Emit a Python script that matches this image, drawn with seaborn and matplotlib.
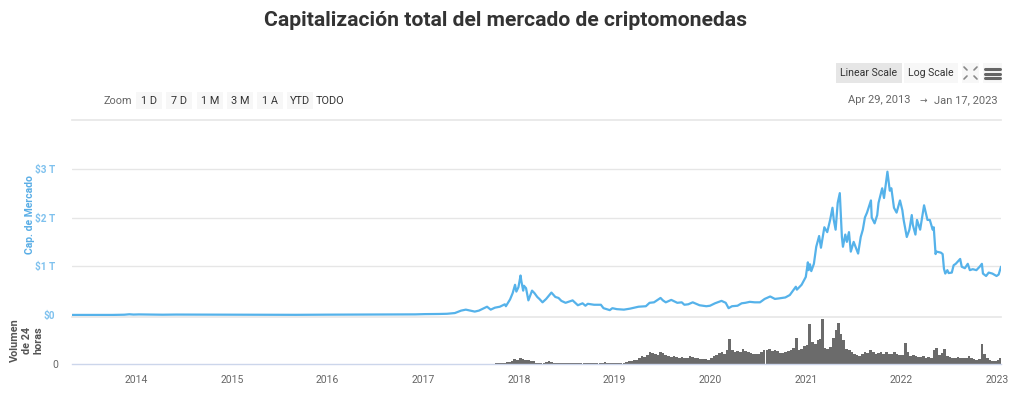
import numpy as np
import pandas as pd
import matplotlib.pyplot as plt
import matplotlib.dates as mdates
from matplotlib.patches import Rectangle
from matplotlib.lines import Line2D
import seaborn as sns

# market cap (trillions USD)
cap_dates = [
    "2013-04-29", "2013-06-01", "2013-08-01", "2013-10-01", "2013-11-15", "2013-12-04", "2013-12-20",
    "2014-01-10", "2014-02-15", "2014-04-10", "2014-06-01", "2014-08-01", "2014-10-01", "2014-12-01",
    "2015-01-14", "2015-03-01", "2015-06-01", "2015-09-01", "2015-11-05",
    "2016-01-01", "2016-03-01", "2016-06-18", "2016-09-01", "2016-12-01",
    "2017-01-05", "2017-03-01", "2017-04-01", "2017-05-01", "2017-05-25", "2017-06-12", "2017-07-16",
    "2017-08-01", "2017-09-01", "2017-09-15", "2017-10-01", "2017-10-20", "2017-11-08", "2017-11-12",
    "2017-11-28", "2017-12-08", "2017-12-17", "2017-12-22", "2017-12-30",
    "2018-01-07", "2018-01-10", "2018-01-17", "2018-01-20", "2018-01-28", "2018-02-06", "2018-02-20",
    "2018-03-01", "2018-03-12", "2018-03-20", "2018-04-01", "2018-04-15", "2018-05-05", "2018-05-20",
    "2018-06-01", "2018-06-12", "2018-06-28", "2018-07-25", "2018-08-14", "2018-09-01", "2018-09-12",
    "2018-09-21", "2018-10-15", "2018-11-10", "2018-11-20", "2018-12-14", "2018-12-24",
    "2019-01-10", "2019-02-06", "2019-03-01", "2019-04-03", "2019-05-01", "2019-05-15", "2019-06-01",
    "2019-06-26", "2019-07-05", "2019-07-16", "2019-08-06", "2019-08-29", "2019-09-15", "2019-09-25",
    "2019-10-10", "2019-10-27", "2019-11-22", "2019-12-18",
    "2020-01-01", "2020-01-20", "2020-02-14", "2020-03-01", "2020-03-12", "2020-03-25", "2020-04-15",
    "2020-05-01", "2020-05-15", "2020-06-01", "2020-06-20", "2020-07-10", "2020-07-28", "2020-08-18",
    "2020-09-05", "2020-09-20", "2020-10-15", "2020-11-01", "2020-11-24", "2020-11-28", "2020-12-16",
    "2021-01-01", "2021-01-09", "2021-01-12", "2021-01-17", "2021-01-22", "2021-02-01", "2021-02-10",
    "2021-02-21", "2021-02-28", "2021-03-13", "2021-03-24", "2021-04-04", "2021-04-13", "2021-04-18",
    "2021-04-25", "2021-05-03", "2021-05-11", "2021-05-19", "2021-05-23", "2021-06-01", "2021-06-07",
    "2021-06-15", "2021-06-22", "2021-07-03", "2021-07-10", "2021-07-20", "2021-07-30", "2021-08-07",
    "2021-08-15", "2021-08-23", "2021-09-07", "2021-09-10", "2021-09-21", "2021-10-01", "2021-10-06",
    "2021-10-20", "2021-10-27", "2021-11-09", "2021-11-18", "2021-11-24", "2021-12-04", "2021-12-14",
    "2021-12-27",
    "2022-01-05", "2022-01-10", "2022-01-22", "2022-02-01", "2022-02-10", "2022-02-14", "2022-02-24",
    "2022-03-02", "2022-03-14", "2022-03-29", "2022-04-11", "2022-04-20", "2022-05-01", "2022-05-05",
    "2022-05-12", "2022-05-15", "2022-06-01", "2022-06-08", "2022-06-13", "2022-06-18", "2022-06-26",
    "2022-07-01", "2022-07-13", "2022-07-20", "2022-07-28", "2022-08-14", "2022-08-20", "2022-09-01",
    "2022-09-12", "2022-09-20", "2022-10-01", "2022-10-15", "2022-10-29", "2022-11-05", "2022-11-09",
    "2022-11-21", "2022-12-01", "2022-12-15", "2022-12-31", "2023-01-08", "2023-01-17",
]
cap_values = [
    0.0015, 0.0012, 0.0013, 0.0016, 0.006, 0.015, 0.009,
    0.012, 0.009, 0.006, 0.009, 0.008, 0.005, 0.005,
    0.003, 0.004, 0.004, 0.0035, 0.006,
    0.007, 0.008, 0.012, 0.011, 0.013,
    0.018, 0.021, 0.025, 0.04, 0.09, 0.11, 0.07,
    0.09, 0.17, 0.11, 0.15, 0.17, 0.22, 0.18,
    0.32, 0.45, 0.62, 0.48, 0.57,
    0.81, 0.70, 0.50, 0.60, 0.55, 0.30, 0.50,
    0.45, 0.37, 0.33, 0.26, 0.33, 0.46, 0.37,
    0.35, 0.29, 0.25, 0.30, 0.20, 0.24, 0.19,
    0.23, 0.21, 0.21, 0.14, 0.10, 0.14,
    0.12, 0.11, 0.13, 0.17, 0.18, 0.25, 0.26,
    0.35, 0.30, 0.26, 0.31, 0.25, 0.26, 0.21,
    0.22, 0.26, 0.20, 0.18,
    0.19, 0.24, 0.29, 0.25, 0.14, 0.18, 0.19,
    0.24, 0.25, 0.27, 0.26, 0.26, 0.33, 0.38,
    0.33, 0.34, 0.36, 0.41, 0.58, 0.52, 0.62,
    0.78, 1.08, 0.92, 1.04, 0.90, 1.05, 1.40,
    1.62, 1.38, 1.80, 1.70, 1.95, 2.20, 1.95,
    1.75, 2.30, 2.50, 1.60, 1.40, 1.65, 1.50,
    1.70, 1.30, 1.50, 1.40, 1.26, 1.60, 1.75,
    2.00, 2.10, 2.35, 2.00, 1.88, 2.05, 2.30,
    2.60, 2.40, 2.94, 2.55, 2.60, 2.20, 2.10,
    2.35,
    2.15, 1.95, 1.60, 1.75, 2.05, 1.85, 1.65,
    1.95, 1.75, 2.25, 1.95, 1.95, 1.75, 1.80,
    1.25, 1.30, 1.28, 1.25, 0.95, 0.85, 0.92,
    0.86, 0.87, 1.02, 1.05, 1.15, 0.99, 0.96,
    1.05, 0.92, 0.94, 0.92, 1.00, 1.05, 0.85,
    0.80, 0.87, 0.85, 0.80, 0.83, 0.99,
]

# 24h volume (billions USD), roughly every 10 days
vol_start = "2017-10-01"
vol_values = [
    8, 8, 10, 10, 14, 16, 24, 40, 34,                                   # 2017 Q4
    48, 42, 36, 34, 28, 24, 10, 10, 9, 10, 14, 22, 16, 12, 10, 9, 9, 8,  # 2018 H1
    9, 10, 9, 9, 8, 9, 8, 10, 8, 8, 8, 8, 9, 12, 14, 10, 9, 10,          # 2018 H2
    10, 10, 10, 12, 16, 22, 26, 30, 32, 50, 62, 56, 72, 94, 88, 80, 74, 96,
    90, 72, 66, 56, 62, 58, 50, 58, 52, 48, 66, 56, 50, 46, 42, 40, 42, 36,
    50, 62, 72, 88, 96, 84, 110, 200, 115, 96, 104, 98, 120, 106, 98, 90, 82, 80,
    82, 96, 112, 114, 120, 108, 110, 106, 92, 88, 96, 104, 112, 130, 210, 112, 122, 146,
    150, 320, 180, 160, 190, 200, 360, 130, 120, 140, 210, 270, 330, 240, 190, 120, 110, 96,
    80, 72, 66, 82, 96, 88, 110, 96, 82, 90, 96, 82, 96, 82, 80, 96, 82, 74,
    74, 170, 96, 66, 72, 62, 56, 58, 64, 50, 56, 48, 110, 130, 74, 88, 120, 66,
    56, 50, 48, 56, 48, 46, 48, 62, 46, 40, 34, 38, 160, 82, 50, 32, 26, 24,
    32, 50,
]

years = list(range(2014, 2024))
cap_ticks = [0, 1, 2, 3]
cap_tick_labels = ["$0", "$1 T", "$2 T", "$3 T"]

df = pd.DataFrame({"date": pd.to_datetime(cap_dates), "cap": cap_values})
vol_dates = []
d = pd.Timestamp(vol_start)
for v in vol_values:
    vol_dates.append(d)
    d = d + pd.Timedelta(days=10) if d.day < 21 else (d + pd.offsets.MonthBegin(1))
vol = pd.DataFrame({"date": vol_dates, "vol": vol_values})

W, H = 1024, 395
sns.set_style("white")
plt.rcParams["font.family"] = ["Roboto", "DejaVu Sans"]

fig = plt.figure(figsize=(W / 100, H / 100), dpi=100)


def fx(px):
    return px / W


def fy(py):
    return 1 - py / H


x0, x1 = 72, 1001
xmin, xmax = pd.Timestamp("2013-04-29"), pd.Timestamp("2023-01-17")

# price panel
ax = fig.add_axes([fx(x0), fy(317), fx(x1 - x0), fy(120) - fy(317)])
sns.lineplot(data=df, x="date", y="cap", ax=ax, color="#55b2ea", linewidth=1.6)
ax.set_xlim(xmin, xmax)
ax.set_ylim(-0.041, 4.0)
ax.set_yticks(cap_ticks)
ax.set_yticklabels(cap_tick_labels)
ax.tick_params(axis="y", length=0, pad=12, labelsize=7.2, labelcolor="#7ec1ee")
for t in ax.get_yticklabels():
    t.set_fontweight("bold")
ax.set_xticks([])
ax.set_xlabel("")
ax.set_ylabel("")
for s in ["left", "right"]:
    ax.spines[s].set_visible(False)
for s in ["top", "bottom"]:
    ax.spines[s].set_color("#e6e6e6")
    ax.spines[s].set_linewidth(1.2)
for g in [1, 2, 3]:
    ax.axhline(g, color="#e6e6e6", lw=1, zorder=0)

# volume panel
axv = fig.add_axes([fx(x0), fy(364), fx(x1 - x0), fy(318) - fy(364)])
axv.bar(vol["date"], vol["vol"], width=10, align="edge", color="#6b6b6b", linewidth=0)
axv.set_xlim(xmin, xmax)
axv.set_ylim(0, 368)
axv.set_yticks([0])
axv.set_yticklabels(["0"])
axv.tick_params(axis="y", length=0, pad=10, labelsize=7.5, labelcolor="#666666")
axv.set_xticks([pd.Timestamp(f"{y}-01-01") for y in years])
axv.xaxis.set_major_formatter(mdates.DateFormatter("%Y"))
axv.tick_params(axis="x", length=5, width=1, color="#ccd6eb", pad=3,
                labelsize=7.5, labelcolor="#666666")
for s in ["left", "right", "top"]:
    axv.spines[s].set_visible(False)
axv.spines["bottom"].set_color("#ccd6eb")
axv.spines["bottom"].set_linewidth(1)

# axis titles
fig.text(fx(30), fy(215), "Cap. de Mercado", rotation=90, ha="center", va="center",
         fontsize=7.5, fontweight="bold", color="#5aaee6")
fig.text(fx(27), fy(340), "Volumen\nde 24\nhoras", rotation=90, ha="center", va="center",
         fontsize=7.8, fontweight="bold", color="#555555", linespacing=1.2,
         multialignment="center")

# title
fig.text(fx(505), fy(20), "Capitalización total del mercado de criptomonedas",
         ha="center", va="center", fontsize=15.2, fontweight="bold", color="#333333")


def button(cx, cy, w, h, label, bg, fs=7.8, color="#333333"):
    fig.patches.append(Rectangle((fx(cx - w / 2), fy(cy + h / 2)), fx(w), fy(cy - h / 2) - fy(cy + h / 2),
                                 transform=fig.transFigure, facecolor=bg, edgecolor="none"))
    if label:
        fig.text(fx(cx), fy(cy), label, ha="center", va="center", fontsize=fs, color=color)


# range selector
fig.text(fx(118), fy(101), "Zoom", ha="center", va="center", fontsize=7.8, color="#666666")
for cx, lab in zip([149, 179, 210, 240, 270, 300, 330], ["1 D", "7 D", "1 M", "3 M", "1 A", "YTD", "TODO"]):
    button(cx, 101, 26, 17, lab, "#f7f7f7" if lab != "TODO" else "none")

fig.text(fx(879), fy(100), "Apr 29, 2013", ha="center", va="center", fontsize=8, color="#666666")
fig.text(fx(923), fy(100), "→", ha="center", va="center", fontsize=6.5, color="#666666")
fig.text(fx(966), fy(100), "Jan 17, 2023", ha="center", va="center", fontsize=8, color="#666666")

# scale buttons and icons
button(869, 73, 66, 20, "Linear Scale", "#e6e6e6", fs=7.6)
button(931, 73, 54, 20, "Log Scale", "#f7f7f7", fs=7.6)
button(970, 73, 17, 20, "", "#f7f7f7")
button(992, 73, 19, 20, "", "#f7f7f7")
for (ax_, ay_), (bx_, by_) in [((964, 67), (967, 70)), ((977, 67), (974, 70)),
                               ((964, 79), (967, 76)), ((977, 79), (974, 76))]:
    fig.lines.append(Line2D([fx(ax_), fx(bx_)], [fy(ay_), fy(by_)], transform=fig.transFigure,
                            color="#888888", lw=1.2))
for yy in [69, 73.5, 78]:
    fig.lines.append(Line2D([fx(985), fx(1000)], [fy(yy), fy(yy)], transform=fig.transFigure,
                            color="#666666", lw=2.2))

fig.savefig("out.png", dpi=100)
